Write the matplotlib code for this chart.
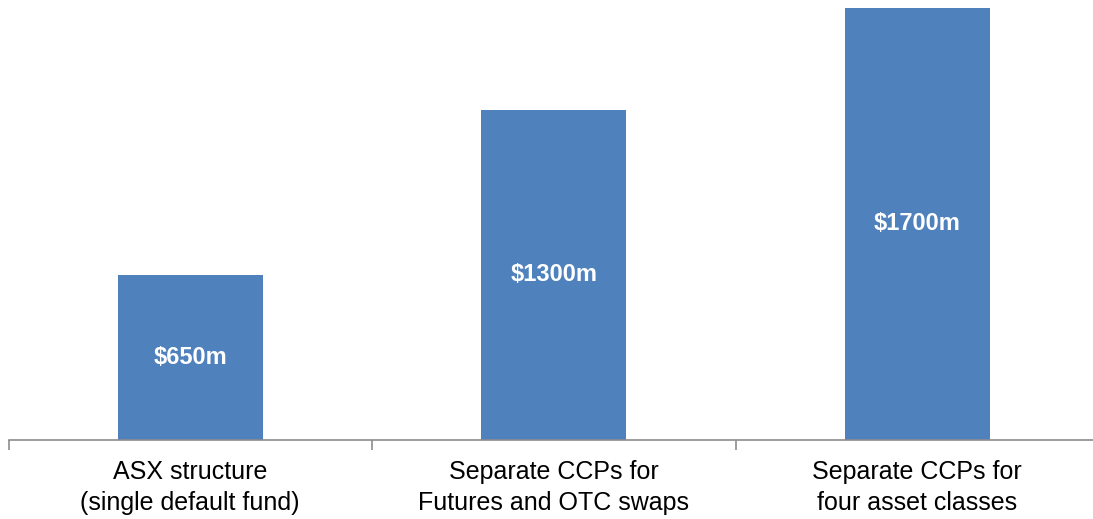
import matplotlib
matplotlib.use('Agg')
import matplotlib.pyplot as plt
from matplotlib import font_manager

#####################################################################################
# DATA:
#####################################################################################
categories = ['ASX structure\n(single default fund)',
              'Separate CCPs for\nFutures and OTC swaps',
              'Separate CCPs for\nfour asset classes']
values = [650, 1300, 1700]
value_labels = ['$650m', '$1300m', '$1700m']

#####################################################################################
# SETTINGS:
#####################################################################################
names = set(f.name for f in font_manager.fontManager.ttflist)
narrow = 'Liberation Sans Narrow' if 'Liberation Sans Narrow' in names else 'Liberation Sans'
plt.rcParams['font.family'] = [narrow, 'DejaVu Sans']

bar_color = '#4F81BD'
W, H = 1093, 519

fig = plt.figure(figsize=(W / 100, H / 100), dpi=100)
# axes spans from x=8.5px to 1099px, y=0 to 439.5px (from top)
ax = fig.add_axes([8.5 / W, 79.5 / H, (1099 - 8.5) / W, 439.5 / H])

x = range(len(values))
ax.bar(x, values, width=0.4, color=bar_color, edgecolor='none')

for i, v in enumerate(values):
    ax.text(i, v / 2, value_labels[i], ha='center', va='center',
            color='white', fontsize=17, fontweight='bold')

ax.set_xlim(-0.5, len(values) - 0.5)
ax.set_ylim(0, 1732)

for s in ['top', 'right', 'left']:
    ax.spines[s].set_visible(False)
ax.spines['bottom'].set_color('#8c8c8c')
ax.spines['bottom'].set_linewidth(1.2)

ax.set_yticks([])
ax.set_xticks(list(x))
ax.set_xticklabels(categories, fontsize=18, color='black', linespacing=1.35)
ax.tick_params(axis='x', which='major', length=0, pad=15)
ax.set_xticks([i - 0.5 for i in range(len(values) + 1)], minor=True)
ax.tick_params(axis='x', which='minor', length=7, width=1.2, color='#8c8c8c', direction='out')

fig.savefig('out.png', dpi=100)
